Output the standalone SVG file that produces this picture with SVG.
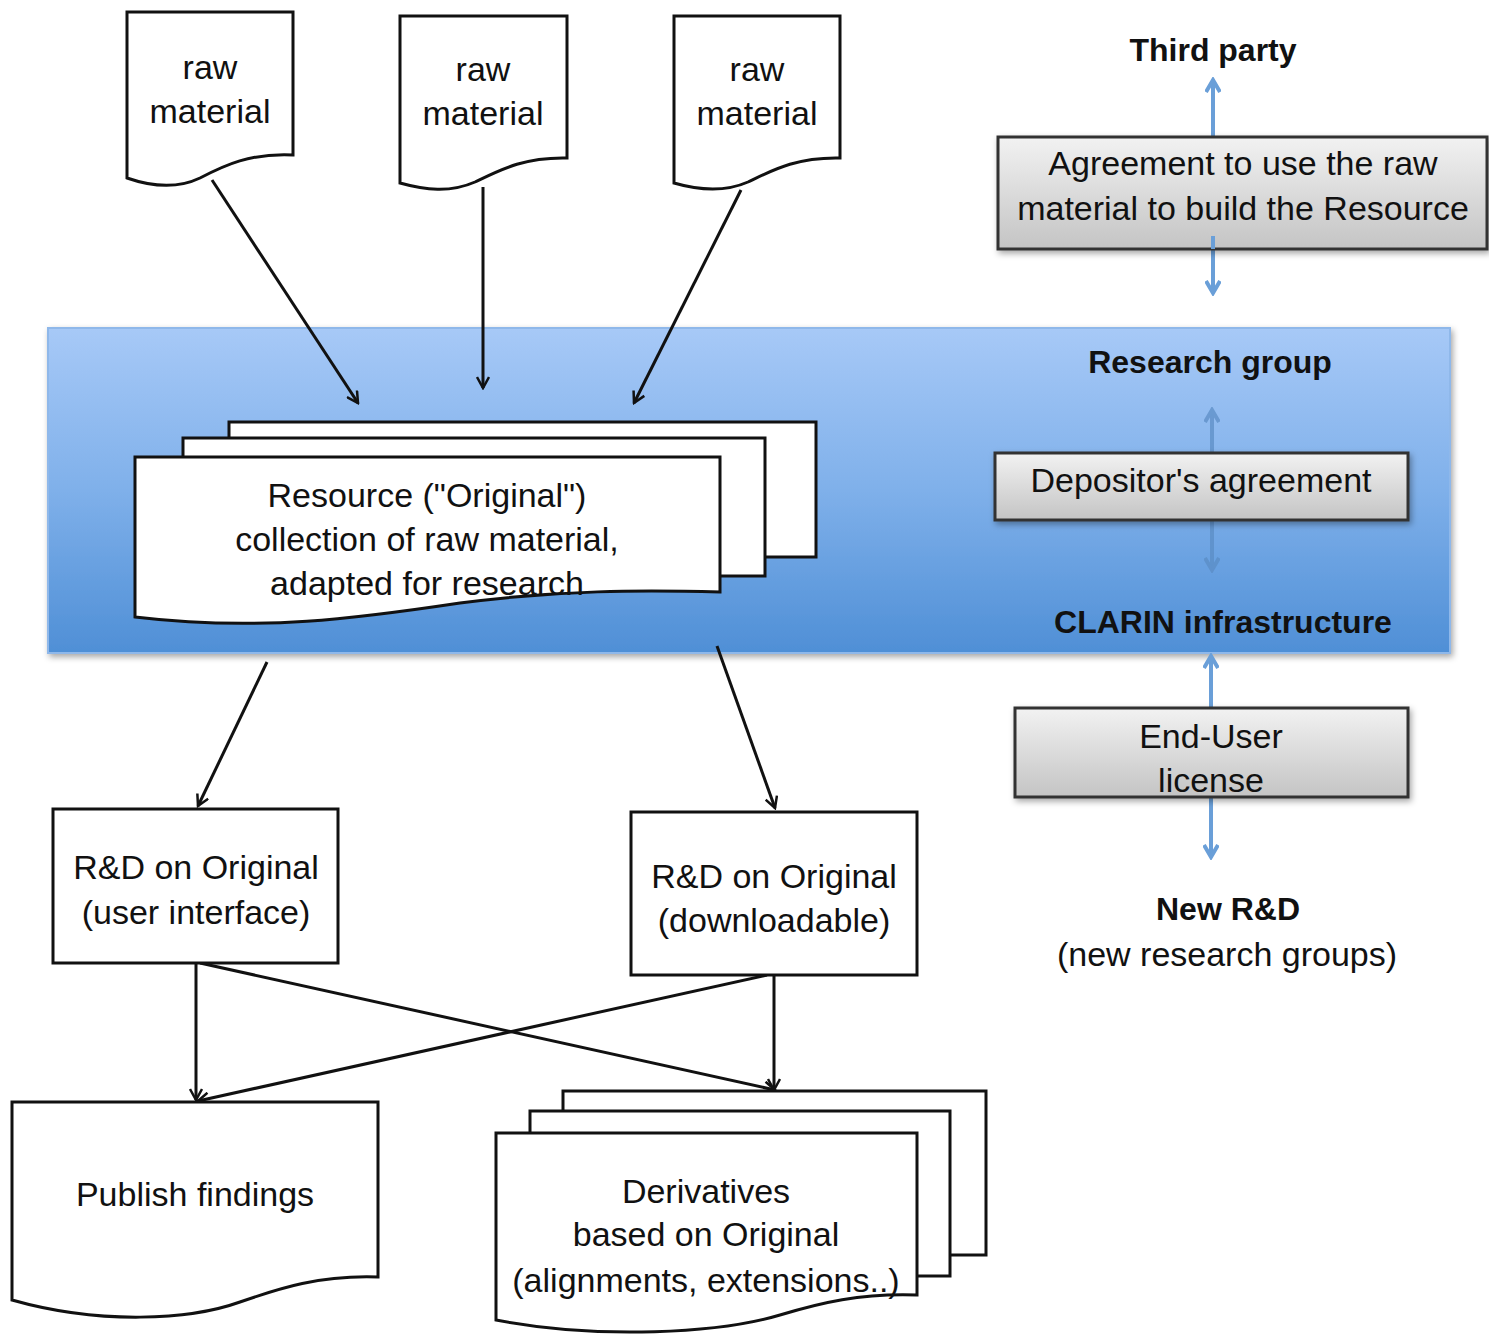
<svg xmlns="http://www.w3.org/2000/svg" width="1489" height="1336" viewBox="0 0 1489 1336">
<defs>
<style>
.t{font-family:"Liberation Sans",Arial,sans-serif;font-size:34px;fill:#111;text-anchor:middle}
.b{font-family:"Liberation Sans",Arial,sans-serif;font-size:32px;font-weight:bold;fill:#111;text-anchor:middle}
.doc{fill:#fff;stroke:#111;stroke-width:3;stroke-linejoin:miter}
.box{fill:#fff;stroke:#111;stroke-width:3}
.gbox{fill:url(#gray);stroke:#333;stroke-width:3}
.con{fill:none;stroke:#111;stroke-width:3;marker-end:url(#ah)}
.bl{fill:none;stroke:#6a9fd8;stroke-width:4;marker-end:url(#bh)}
.bl2{fill:none;stroke:#5a8cc4;stroke-width:4;opacity:0.7;marker-end:url(#bh2)}
</style>
<linearGradient id="band" x1="0" y1="0" x2="0" y2="1">
<stop offset="0" stop-color="#a7c9f7"/>
<stop offset="0.5" stop-color="#7fb0ea"/>
<stop offset="1" stop-color="#4f8fd6"/>
</linearGradient>
<linearGradient id="gray" x1="0" y1="0" x2="0" y2="1">
<stop offset="0" stop-color="#f2f2f2"/>
<stop offset="1" stop-color="#c4c4c4"/>
</linearGradient>
<filter id="sh" x="-5%" y="-10%" width="110%" height="130%">
<feDropShadow dx="2" dy="3" stdDeviation="3" flood-color="#000" flood-opacity="0.35"/>
</filter>
<marker id="ah" markerWidth="14" markerHeight="14" refX="12" refY="7" orient="auto" markerUnits="userSpaceOnUse">
<path d="M1,1 L12,7 L1,13" fill="none" stroke="#111" stroke-width="2.5"/>
</marker>
<marker id="bh" markerWidth="16" markerHeight="16" refX="13" refY="8" orient="auto" markerUnits="userSpaceOnUse">
<path d="M1,1 L13,8 L1,15" fill="none" stroke="#6a9fd8" stroke-width="4"/>
</marker>
<marker id="bh2" markerWidth="16" markerHeight="16" refX="13" refY="8" orient="auto" markerUnits="userSpaceOnUse">
<path d="M1,1 L13,8 L1,15" fill="none" stroke="#5a8cc4" stroke-width="4"/>
</marker>
</defs>
<rect width="1489" height="1336" fill="#fff"/>

<g id="band">
<rect x="48" y="328" width="1402" height="325" fill="url(#band)" stroke="#8fb8ea" stroke-width="2" filter="url(#sh)"/>
</g>

<g id="raw1">
<path class="doc" d="M127,12 H293 V155 C250,153 225,165 200,178 C175,190 150,186 127,178 Z"/>
<text class="t" x="210" y="79">raw</text>
<text class="t" x="210" y="123">material</text>
</g>
<g id="raw2">
<path class="doc" d="M400,16 H567 V158 C524,157 500,170 475,182 C450,193 425,190 400,183 Z"/>
<text class="t" x="483" y="81">raw</text>
<text class="t" x="483" y="125">material</text>
</g>
<g id="raw3">
<path class="doc" d="M674,16 H840 V158 C797,157 773,170 748,182 C723,193 698,190 674,183 Z"/>
<text class="t" x="757" y="81">raw</text>
<text class="t" x="757" y="125">material</text>
</g>

<g id="resource">
<rect class="doc" x="229" y="422" width="587" height="135"/>
<rect class="doc" x="183" y="438" width="582" height="138"/>
<path class="doc" d="M135,457 H720 V592 C640,590 560,590 460,603 C360,618 260,632 135,617 Z"/>
<text class="t" x="427" y="507">Resource ("Original")</text>
<text class="t" x="427" y="551">collection of raw material,</text>
<text class="t" x="427" y="595">adapted for research</text>
</g>

<g id="labels">
<text class="b" x="1213" y="61">Third party</text>
<text class="b" x="1210" y="373">Research group</text>
<text class="b" x="1223" y="633">CLARIN infrastructure</text>
<text class="b" x="1228" y="920">New R&amp;D</text>
<text class="t" x="1227" y="966">(new research groups)</text>
</g>

<g id="connectors">
<line class="con" x1="212" y1="180" x2="358" y2="403"/>
<line class="con" x1="483" y1="187" x2="483" y2="388"/>
<line class="con" x1="741" y1="190" x2="634" y2="403"/>
<line class="con" x1="267" y1="662" x2="198" y2="806"/>
<line class="con" x1="717" y1="646" x2="775" y2="808"/>
<line class="con" x1="196" y1="963" x2="196" y2="1100"/>
<line class="con" x1="200" y1="963" x2="775" y2="1090"/>
<line class="con" x1="767" y1="975" x2="198" y2="1101"/>
<line class="con" x1="774" y1="975" x2="774" y2="1090"/>
<line class="bl" x1="1213" y1="137" x2="1213" y2="80"/>
<line class="bl" x1="1213" y1="236" x2="1213" y2="293"/>
<line class="bl2" x1="1212" y1="453" x2="1212" y2="410"/>
<line class="bl2" x1="1212" y1="520" x2="1212" y2="570"/>
<line class="bl" x1="1211" y1="708" x2="1211" y2="656"/>
<line class="bl" x1="1211" y1="797" x2="1211" y2="857"/>
</g>

<g id="agreement">
<rect class="gbox" x="998" y="137" width="489" height="112" filter="url(#sh)"/>
<text class="t" x="1243" y="175">Agreement to use the raw</text>
<text class="t" x="1243" y="220">material to build the Resource</text>
<line x1="1213" y1="236" x2="1213" y2="249" stroke="#6a9fd8" stroke-width="4"/>
</g>

<g id="depositor">
<rect class="gbox" x="995" y="453" width="413" height="67" filter="url(#sh)"/>
<text class="t" x="1201" y="492">Depositor's agreement</text>
</g>

<g id="enduser">
<rect class="gbox" x="1015" y="708" width="393" height="89" filter="url(#sh)"/>
<text class="t" x="1211" y="748">End-User</text>
<text class="t" x="1211" y="792">license</text>
</g>

<g id="rd1">
<rect class="box" x="53" y="809" width="285" height="154"/>
<text class="t" x="196" y="879">R&amp;D on Original</text>
<text class="t" x="196" y="924">(user interface)</text>
</g>
<g id="rd2">
<rect class="box" x="631" y="812" width="286" height="163"/>
<text class="t" x="774" y="888">R&amp;D on Original</text>
<text class="t" x="774" y="932">(downloadable)</text>
</g>

<g id="publish">
<path class="doc" d="M12,1102 H378 V1277 C320,1275 280,1288 240,1302 C190,1320 100,1325 12,1300 Z"/>
<text class="t" x="195" y="1206">Publish findings</text>
</g>

<g id="derivatives">
<rect class="doc" x="563" y="1091" width="423" height="164"/>
<rect class="doc" x="530" y="1111" width="420" height="165"/>
<path class="doc" d="M496,1133 H917 V1295 C860,1293 820,1303 780,1315 C720,1333 600,1340 496,1320 Z"/>
<text class="t" x="706" y="1203">Derivatives</text>
<text class="t" x="706" y="1246">based on Original</text>
<text class="t" x="706" y="1292">(alignments, extensions..)</text>
</g>
</svg>
